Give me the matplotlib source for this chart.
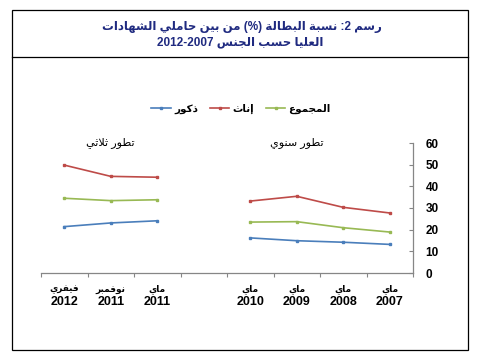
import numpy as np
import matplotlib.pyplot as plt
from matplotlib.patches import Rectangle
from matplotlib.lines import Line2D
from matplotlib import transforms

plt.rcParams['font.family'] = ['Liberation Sans', 'DejaVu Sans']

# Data (categories read right to left, as in the original chart)
months = ['ماي', 'ماي', 'ماي', 'ماي', '', 'ماي', 'نوفمبر', 'فيفري']
years = ['2007', '2008', '2009', '2010', '', '2011', '2011', '2012']
males = [13.2, 14.2, 14.9, 16.2, None, 24.1, 23.1, 21.4]
females = [27.7, 30.3, 35.4, 33.2, None, 44.2, 44.6, 49.8]
total = [18.9, 20.9, 23.7, 23.5, None, 33.8, 33.4, 34.5]

title_1 = 'رسم 2: نسبة البطالة (%) من بين حاملي الشهادات'
title_2 = 'العليا حسب الجنس 2007-2012'
series_names = ['ذكور', 'إناث', 'المجموع']
note_quarterly = 'تطور ثلاثي'
note_annual = 'تطور سنوي'

# Minimal Arabic shaping (matplotlib has no shaping / bidi)
FORMS = {
    'ا': (0xFE8D, 0xFE8E), 'إ': (0xFE87, 0xFE88),
    'ب': (0xFE8F, 0xFE90, 0xFE91, 0xFE92), 'ة': (0xFE93, 0xFE94),
    'ت': (0xFE95, 0xFE96, 0xFE97, 0xFE98), 'ث': (0xFE99, 0xFE9A, 0xFE9B, 0xFE9C),
    'ج': (0xFE9D, 0xFE9E, 0xFE9F, 0xFEA0), 'ح': (0xFEA1, 0xFEA2, 0xFEA3, 0xFEA4),
    'د': (0xFEA9, 0xFEAA), 'ذ': (0xFEAB, 0xFEAC), 'ر': (0xFEAD, 0xFEAE),
    'س': (0xFEB1, 0xFEB2, 0xFEB3, 0xFEB4), 'ش': (0xFEB5, 0xFEB6, 0xFEB7, 0xFEB8),
    'ط': (0xFEC1, 0xFEC2, 0xFEC3, 0xFEC4), 'ع': (0xFEC9, 0xFECA, 0xFECB, 0xFECC),
    'ف': (0xFED1, 0xFED2, 0xFED3, 0xFED4), 'ك': (0xFED9, 0xFEDA, 0xFEDB, 0xFEDC),
    'ل': (0xFEDD, 0xFEDE, 0xFEDF, 0xFEE0), 'م': (0xFEE1, 0xFEE2, 0xFEE3, 0xFEE4),
    'ن': (0xFEE5, 0xFEE6, 0xFEE7, 0xFEE8), 'ه': (0xFEE9, 0xFEEA, 0xFEEB, 0xFEEC),
    'و': (0xFEED, 0xFEEE), 'ي': (0xFEF1, 0xFEF2, 0xFEF3, 0xFEF4),
    'لا': (0xFEFB, 0xFEFC), 'لإ': (0xFEF9, 0xFEFA),
}
MIRROR = {'(': ')', ')': '('}


def shape_word(word):
    units, i = [], 0
    while i < len(word):
        if word[i] == 'ل' and i + 1 < len(word) and word[i + 1] in 'اإ':
            units.append(word[i:i + 2])
            i += 2
        else:
            units.append(word[i])
            i += 1
    out = []
    for k, u in enumerate(units):
        if u not in FORMS:
            out.append(MIRROR.get(u, u))
            continue
        prev = k > 0 and len(FORMS.get(units[k - 1], ())) == 4
        nxt = len(FORMS[u]) == 4 and k + 1 < len(units) and units[k + 1] in FORMS
        idx = 3 if (prev and nxt) else 1 if prev else 2 if nxt else 0
        out.append(chr(FORMS[u][idx]))
    return ''.join(out[::-1])


def ar(text):
    tokens = []
    for tok in text.split(' '):
        if any(c in FORMS for c in tok):
            tokens.append(shape_word(tok))
        elif any(c.isdigit() for c in tok):
            if tok.endswith(':'):
                tok = ':' + tok[:-1]
            tokens.append('-'.join(tok.split('-')[::-1]))
        else:
            tokens.append(''.join(MIRROR.get(c, c) for c in tok[::-1]))
    return ' '.join(tokens[::-1])


def to_arr(values):
    return np.array([np.nan if v is None else v for v in values], dtype=float)


W, H = 486, 361
fig = plt.figure(figsize=(W / 100, H / 100), dpi=100)
ax = fig.add_axes([41 / W, 1 - 273 / H, (413 - 41) / W, (273 - 143) / H])

x = np.arange(len(years))
colors = ['#4A7EBB', '#BE4B48', '#98B954']
handles = []
for vals, col in zip([males, females, total], colors):
    line, = ax.plot(x, to_arr(vals), color=col, lw=1.2, marker='s', markersize=1.8)
    handles.append(line)

ax.set_xlim(len(years) - 0.5, -0.5)
ax.set_ylim(0, 60)
ax.set_yticks(range(0, 61, 10))
ax.yaxis.tick_right()
ax.set_xticks(np.arange(-0.5, len(years) + 0.5, 1))
ax.set_xticklabels([])
for side in ['top', 'left']:
    ax.spines[side].set_visible(False)
for side in ['right', 'bottom']:
    ax.spines[side].set_color('#868686')
    ax.spines[side].set_linewidth(0.9)
ax.tick_params(axis='y', direction='in', length=3, color='#868686', pad=9,
               labelsize=8.5, labelcolor='black')
ax.tick_params(axis='x', direction='out', length=3, color='#868686')
for lbl in ax.get_yticklabels():
    lbl.set_fontweight('bold')

# category labels: month above year
trans = transforms.blended_transform_factory(ax.transData, fig.transFigure)
for xi, (m, y) in enumerate(zip(months, years)):
    if m:
        ax.text(xi, 1 - 289 / H, ar(m), transform=trans, ha='center', va='center',
                fontsize=6.5, fontweight='bold')
    if y:
        ax.text(xi, 1 - 302 / H, y, transform=trans, ha='center', va='center',
                fontsize=9, fontweight='bold')

ax.text(6, 60, ar(note_quarterly), ha='center', va='center', fontsize=8)
ax.text(2, 60, ar(note_annual), ha='center', va='center', fontsize=8)

fig.legend(handles, [ar(n) for n in series_names], loc='center',
           bbox_to_anchor=(241 / W, 1 - 109 / H), ncol=3, frameon=False,
           prop={'weight': 'bold', 'size': 7.5}, handlelength=1.9,
           handletextpad=0.3, columnspacing=1.1)

# title and frame
navy = '#1F2A80'
fig.text(242 / W, 1 - 27 / H, ar(title_1), ha='center', va='center',
         fontsize=8.5, fontweight='bold', color=navy)
fig.text(240 / W, 1 - 42 / H, ar(title_2), ha='center', va='center',
         fontsize=8.5, fontweight='bold', color=navy)
fig.add_artist(Rectangle((12 / W, 1 - 350 / H), (468 - 12) / W, (350 - 10) / H,
                         fill=False, lw=0.9, ec='black', transform=fig.transFigure))
fig.add_artist(Line2D([12 / W, 468 / W], [1 - 57 / H] * 2, lw=0.9, color='black',
                      transform=fig.transFigure))

fig.savefig('out.png', dpi=100)
